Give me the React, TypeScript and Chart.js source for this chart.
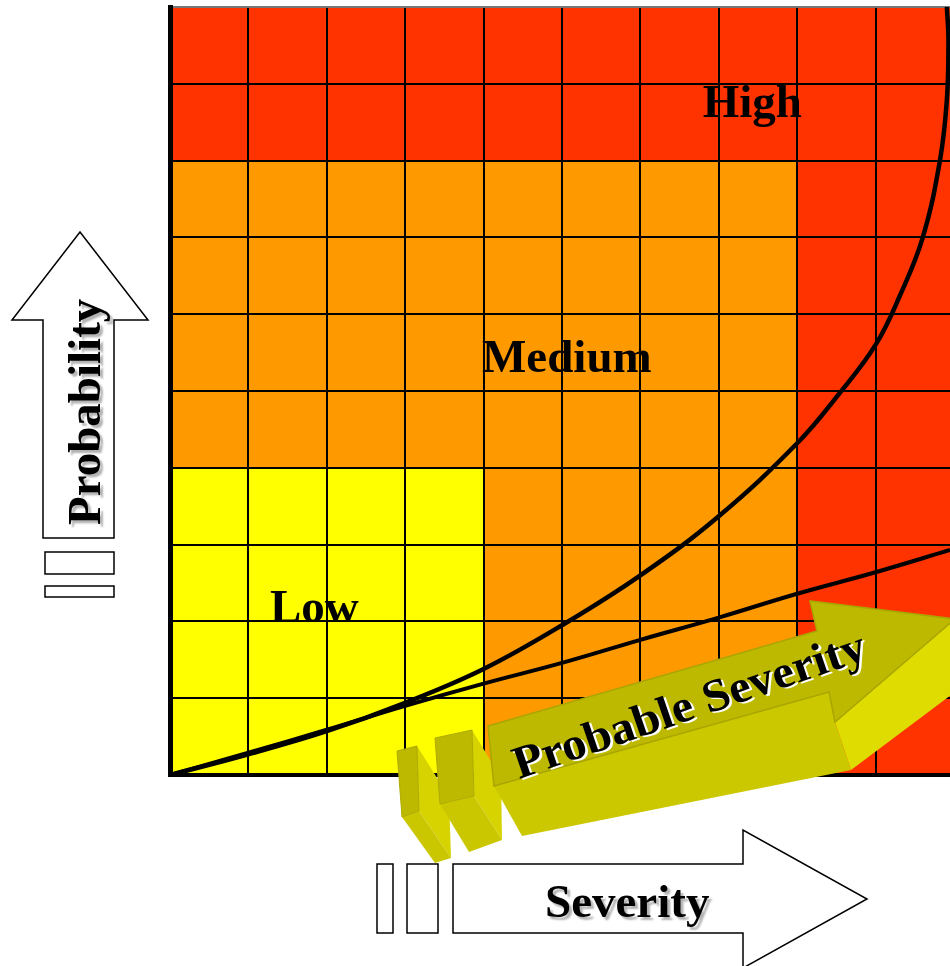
import React, { useEffect, useRef } from "react";
import { Chart, registerables } from "chart.js";

Chart.register(...registerables);

// ---- data ----
const severityTicks = [0, 1, 2, 3, 4, 5, 6, 7, 8, 9, 10];
const probabilityTicks = [0, 1, 2, 3, 4, 5, 6, 7, 8, 9, 10];
const riskLevels = ["Low", "Medium", "High"];
const riskColors = ["#FFFF00", "#FF9900", "#FF3300"];
// rows from the top (probability 9-10) down to the bottom (0-1); columns severity 0-1 .. 9-10
const riskMatrix = [
  [2, 2, 2, 2, 2, 2, 2, 2, 2, 2],
  [2, 2, 2, 2, 2, 2, 2, 2, 2, 2],
  [1, 1, 1, 1, 1, 1, 1, 1, 2, 2],
  [1, 1, 1, 1, 1, 1, 1, 1, 2, 2],
  [1, 1, 1, 1, 1, 1, 1, 1, 2, 2],
  [1, 1, 1, 1, 1, 1, 1, 1, 2, 2],
  [0, 0, 0, 0, 1, 1, 1, 1, 2, 2],
  [0, 0, 0, 0, 1, 1, 1, 1, 2, 2],
  [0, 0, 0, 0, 1, 1, 1, 1, 2, 2],
  [0, 0, 0, 0, 1, 1, 1, 1, 2, 2],
];
const steepCurveX = [0, 1, 2, 3, 4, 5, 6, 7, 8, 8.54, 9, 9.31, 9.6, 9.82, 9.91, 9.93, 9.91];
const steepCurveY = [0, 0.27, 0.57, 0.94, 1.38, 1.95, 2.6, 3.37, 4.32, 4.97, 5.6, 6.24, 6.99, 7.99, 8.79, 9.57, 10];
const shallowCurveX = [0, 1, 2, 3, 4, 5, 6, 7, 8, 9, 9.95];
const shallowCurveY = [0, 0.29, 0.59, 0.9, 1.19, 1.46, 1.76, 2.05, 2.36, 2.64, 2.93];

const FONT = '"Liberation Serif", "Times New Roman", serif';

function poly(ctx: CanvasRenderingContext2D, pts: number[][], fill: string, stroke?: string, lw = 1) {
  ctx.beginPath();
  pts.forEach((p, i) => (i === 0 ? ctx.moveTo(p[0], p[1]) : ctx.lineTo(p[0], p[1])));
  ctx.closePath();
  ctx.fillStyle = fill;
  ctx.fill();
  if (stroke) {
    ctx.strokeStyle = stroke;
    ctx.lineWidth = lw;
    ctx.stroke();
  }
}

const decorPlugin = {
  id: "decor",
  beforeDraw(chart: any) {
    const { ctx } = chart;
    const xs = chart.scales.x;
    const ys = chart.scales.y;
    ctx.save();
    const n = probabilityTicks.length - 1;
    riskMatrix.forEach((row, r) => {
      const yTop = ys.getPixelForValue(probabilityTicks[n - r]);
      const yBot = ys.getPixelForValue(probabilityTicks[n - r - 1]);
      row.forEach((lvl, c) => {
        const x0 = xs.getPixelForValue(severityTicks[c]);
        const x1 = xs.getPixelForValue(severityTicks[c + 1]);
        ctx.fillStyle = riskColors[lvl];
        ctx.fillRect(x0, yTop, x1 - x0, yBot - yTop);
      });
    });
    // zone labels
    ctx.fillStyle = "#000";
    ctx.font = `bold 47px ${FONT}`;
    ctx.textAlign = "left";
    ctx.textBaseline = "alphabetic";
    const labelAt = [
      [0, 1.275, 1.99],
      [1, 3.98, 5.25],
      [2, 6.795, 8.57],
    ];
    labelAt.forEach(([lvl, sx, py]) => {
      ctx.fillText(riskLevels[lvl], xs.getPixelForValue(sx), ys.getPixelForValue(py));
    });
    ctx.restore();
  },
  afterDraw(chart: any) {
    const { ctx } = chart;
    ctx.save();
    // Probability arrow
    poly(ctx, [[80, 232], [148, 320], [114, 320], [114, 538], [43, 538], [43, 320], [12, 320]], "#fff", "#000", 1.5);
    ctx.fillStyle = "#fff";
    ctx.strokeStyle = "#000";
    ctx.lineWidth = 1.5;
    ctx.fillRect(45, 552, 69, 22);
    ctx.strokeRect(45, 552, 69, 22);
    ctx.fillRect(45, 586, 69, 11);
    ctx.strokeRect(45, 586, 69, 11);
    // Severity arrow
    poly(ctx, [[453, 864], [743, 864], [743, 830], [867, 899], [743, 968], [743, 933], [453, 933]], "#fff", "#000", 1.5);
    ctx.fillStyle = "#fff";
    ctx.fillRect(377, 864, 16, 69);
    ctx.strokeRect(377, 864, 16, 69);
    ctx.fillRect(407, 864, 31, 69);
    ctx.strokeRect(407, 864, 31, 69);

    // axis-title texts with shadow
    ctx.font = `bold 47px ${FONT}`;
    ctx.fillStyle = "#000";
    ctx.shadowColor = "rgba(0,0,0,0.3)";
    ctx.shadowOffsetX = 3;
    ctx.shadowOffsetY = 3;
    ctx.shadowBlur = 2;
    ctx.textAlign = "left";
    ctx.textBaseline = "alphabetic";
    ctx.fillText("Severity", 545, 917);
    ctx.save();
    ctx.translate(100, 525);
    ctx.rotate(-Math.PI / 2);
    ctx.fillText("Probability", 0, 0);
    ctx.restore();
    ctx.shadowColor = "transparent";
    ctx.shadowBlur = 0;
    ctx.shadowOffsetX = 0;
    ctx.shadowOffsetY = 0;

    // 3D "Probable Severity" arrow
    // small blocks
    poly(ctx, [[417, 746], [449, 797], [451, 858], [419, 811]], "#D6D300");
    poly(ctx, [[402, 817], [419, 811], [451, 858], [435, 863]], "#CAC700");
    poly(ctx, [[397, 751], [417, 746], [419, 811], [402, 817]], "#BDB900", "#AFAB00", 1);
    poly(ctx, [[472, 730], [501, 778], [502, 840], [474, 796]], "#D6D300");
    poly(ctx, [[440, 804], [474, 796], [502, 840], [469, 852]], "#CAC700");
    poly(ctx, [[435, 738], [472, 730], [474, 796], [440, 804]], "#BDB900", "#AFAB00", 1);
    // main arrow
    poly(ctx, [[494, 786], [829, 692], [835, 722], [851, 770], [522, 836]], "#CBC800");
    poly(ctx, [[835, 722], [955, 619], [995, 662], [851, 770]], "#DEDC00");
    poly(ctx, [[488, 726], [817, 631], [810, 601], [955, 619], [835, 722], [829, 692], [494, 786]], "#BDB900", "#AAA600", 1.5);

    ctx.font = `bold 46px ${FONT}`;
    const label = "Probable Severity";
    const w = ctx.measureText(label).width;
    ctx.translate(519, 779);
    ctx.rotate((-19 * Math.PI) / 180);
    ctx.scale(370 / w, 1);
    ctx.fillStyle = "#fff";
    ctx.fillText(label, 2, 2);
    ctx.fillStyle = "#000";
    ctx.fillText(label, 0, 0);
    ctx.restore();
  },
};

export default function App() {
  const ref = useRef<HTMLCanvasElement | null>(null);
  useEffect(() => {
    document.body.style.margin = "0";
    const canvas = ref.current;
    if (!canvas) return;
    const chart = new Chart(canvas, {
      type: "line",
      data: {
        datasets: [
          {
            label: "Probability",
            data: steepCurveX.map((x, i) => ({ x, y: steepCurveY[i] })),
            borderColor: "#000",
            borderWidth: 4.5,
            pointRadius: 0,
            tension: 0.4,
            fill: false,
          },
          {
            label: "Severity",
            data: shallowCurveX.map((x, i) => ({ x, y: shallowCurveY[i] })),
            borderColor: "#000",
            borderWidth: 4,
            pointRadius: 0,
            tension: 0.4,
            fill: false,
          },
        ],
      },
      options: {
        animation: false,
        responsive: false,
        devicePixelRatio: 1,
        layout: { padding: { left: 170, top: 7, right: 0, bottom: 191 } },
        plugins: { legend: { display: false }, tooltip: { enabled: false } },
        events: [],
        scales: {
          x: {
            type: "linear",
            min: 0,
            max: 9.95,
            afterBuildTicks: (s: any) => {
              s.ticks = severityTicks.map((v) => ({ value: v }));
            },
            ticks: { display: false },
            grid: { color: "#000", lineWidth: 2, drawTicks: false },
            border: { display: true, color: "#000", width: 4 },
          },
          y: {
            type: "linear",
            min: 0,
            max: 10,
            afterBuildTicks: (s: any) => {
              s.ticks = probabilityTicks.map((v) => ({ value: v }));
            },
            ticks: { display: false },
            grid: {
              color: (c: any) => (c.tick && c.tick.value === 10 ? "#777" : "#000"),
              lineWidth: 2,
              drawTicks: false,
            },
            border: { display: true, color: "#000", width: 5 },
          },
        },
      },
      plugins: [decorPlugin],
    } as any);
    return () => chart.destroy();
  }, []);
  return (
    <div style={{ width: 950, height: 966 }}>
      <canvas ref={ref} width={950} height={966} style={{ display: "block" }} />
    </div>
  );
}
